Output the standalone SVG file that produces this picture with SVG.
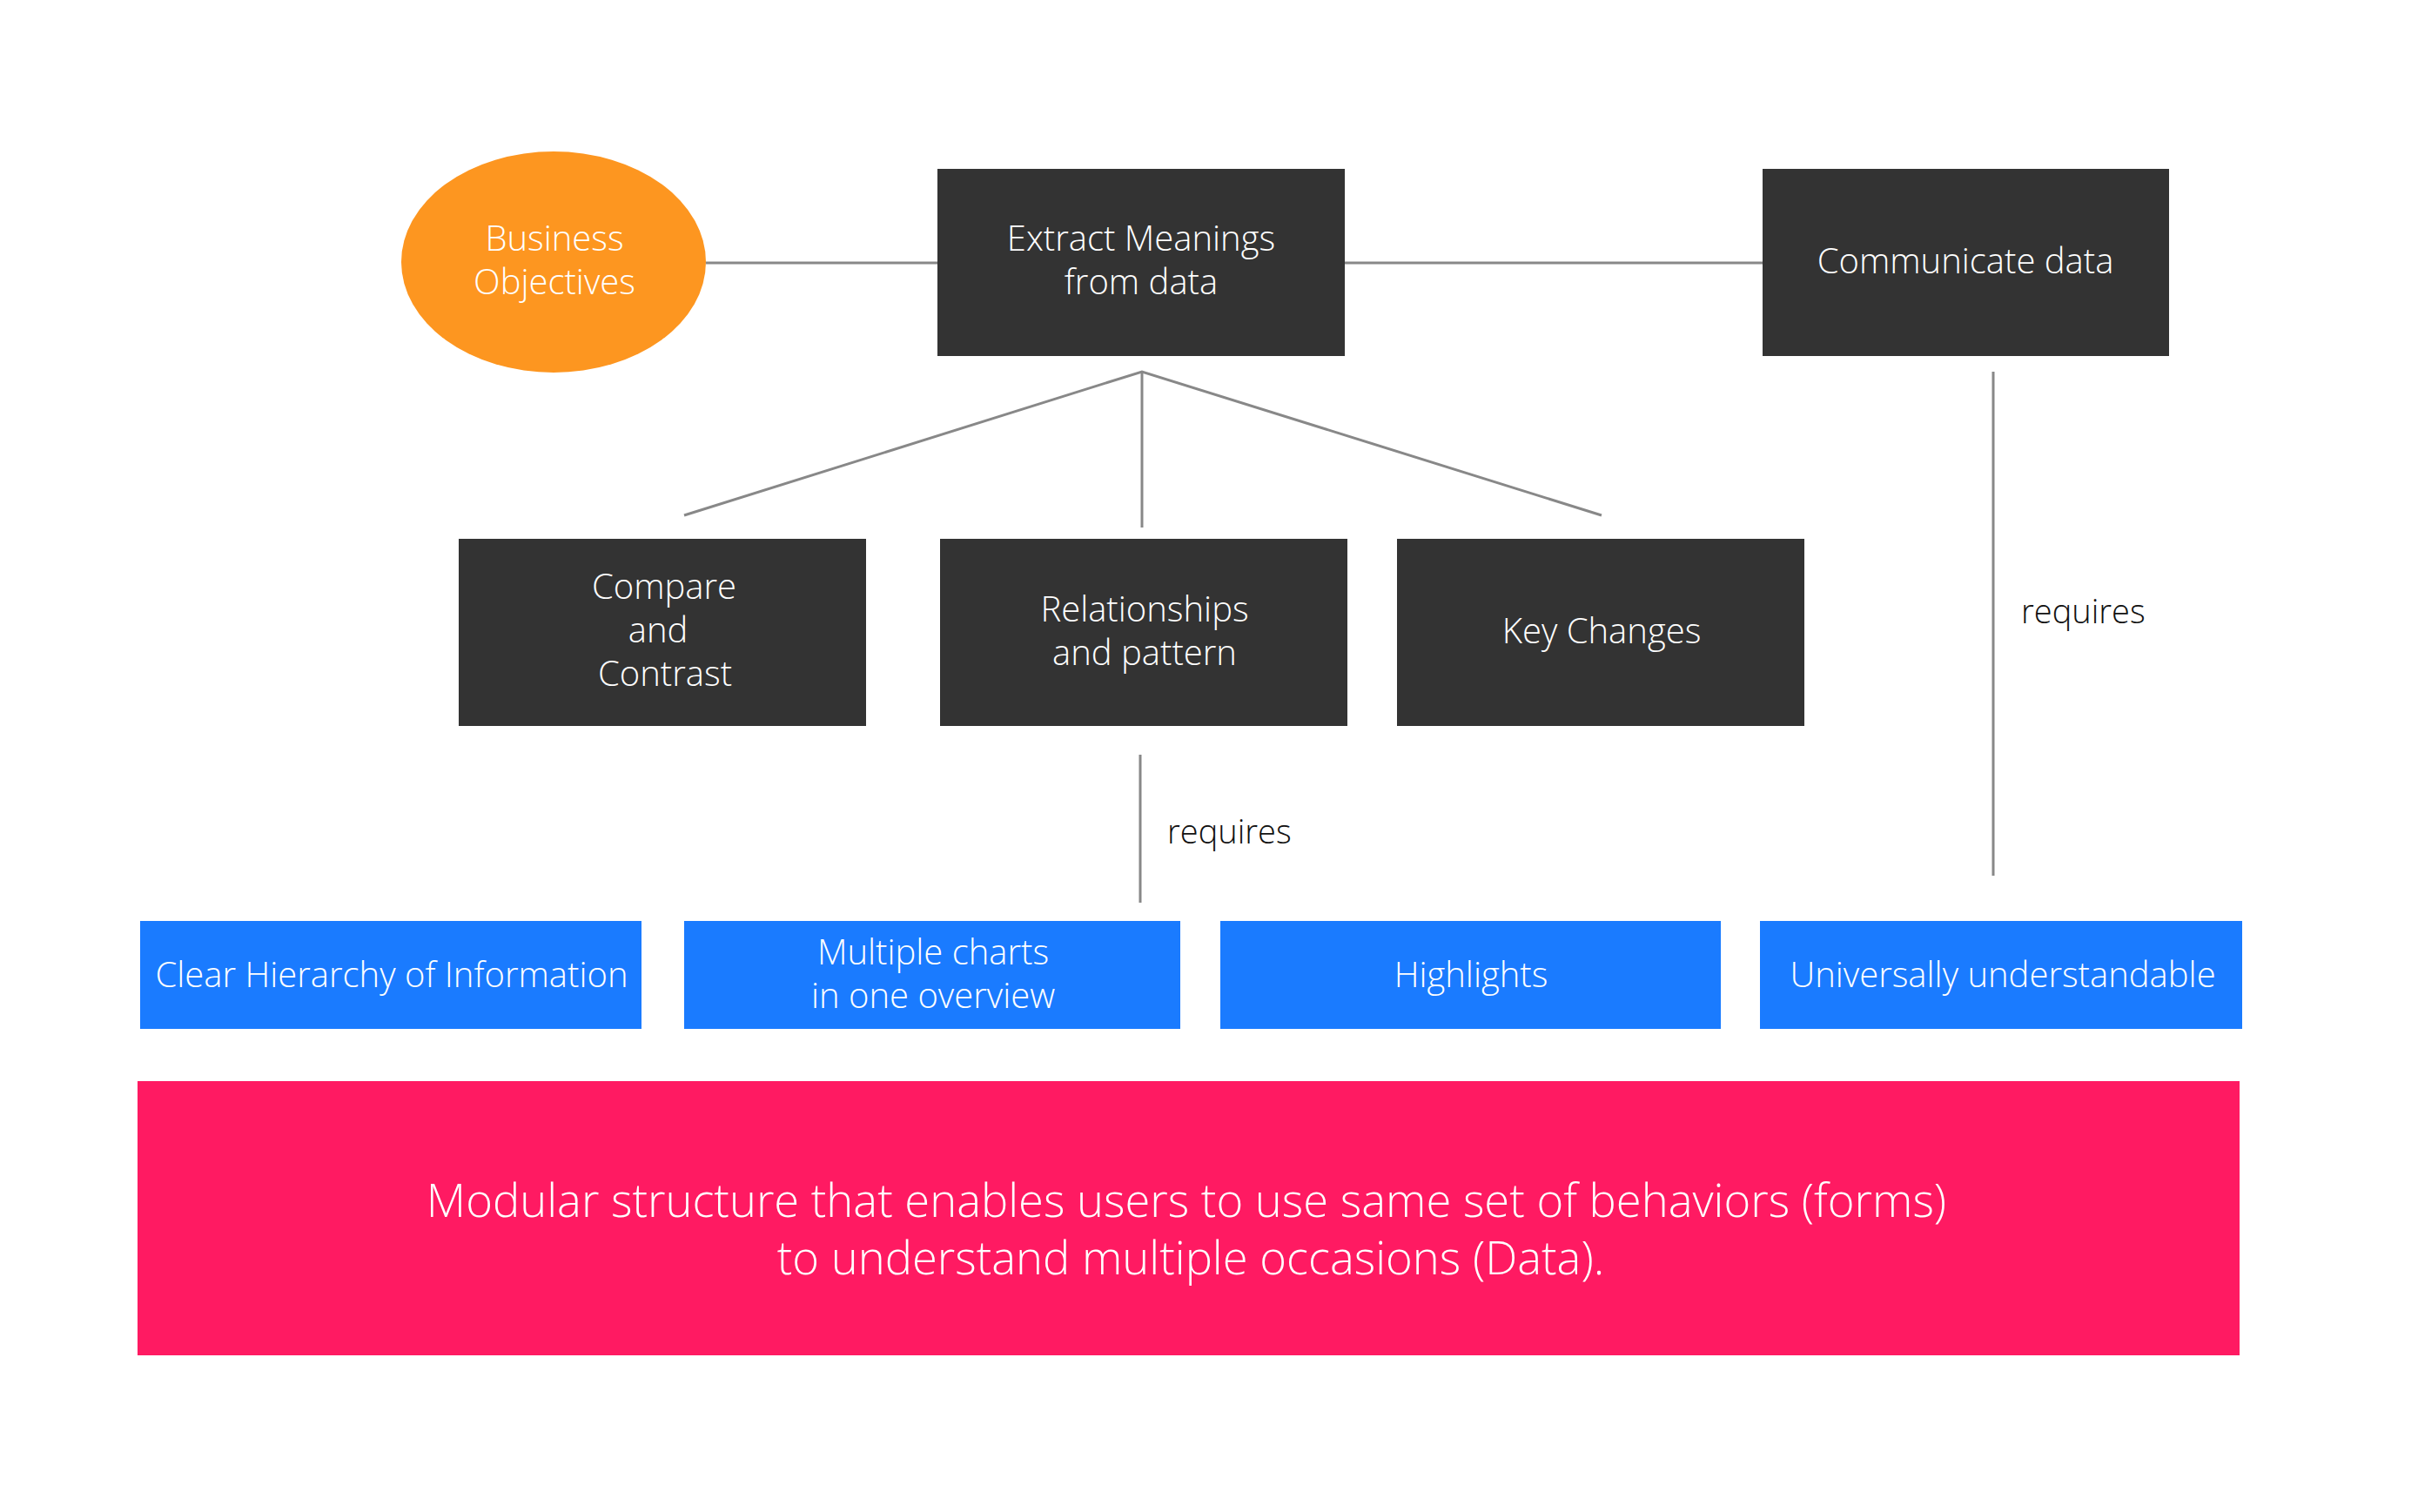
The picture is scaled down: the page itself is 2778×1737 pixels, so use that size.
<svg xmlns="http://www.w3.org/2000/svg" width="2778" height="1737" viewBox="0 0 2778 1737">
<style>
.dark{fill:#333333}
.blue{fill:#1a7bff}
.lbl{font-family:"Open Sans","Liberation Sans",sans-serif;font-weight:300;fill:#ffffff;text-anchor:middle;font-size:40px}
.req{font-family:"Open Sans","Liberation Sans",sans-serif;font-weight:300;fill:#111111;font-size:38px}
.big{font-family:"Open Sans","Liberation Sans",sans-serif;font-weight:300;fill:#ffffff;text-anchor:middle;font-size:52.5px}
.conn{stroke:#888888;stroke-width:3;fill:none}
</style>
<rect width="2778" height="1737" fill="#ffffff"/>
<g id="connectors">
<line class="conn" x1="811" y1="302" x2="1077" y2="302"/>
<line class="conn" x1="1545" y1="302" x2="2025" y2="302"/>
<polyline class="conn" points="786,592 1312,427 1840,592"/>
<line class="conn" x1="1312" y1="427" x2="1312" y2="606"/>
<line class="conn" x1="2290" y1="427" x2="2290" y2="1006"/>
<line class="conn" x1="1310" y1="867" x2="1310" y2="1037"/>
<text class="req" x="2322" y="716">requires</text>
<text class="req" x="1341" y="969">requires</text>
</g>
<g id="business">
<ellipse cx="636" cy="301" rx="175" ry="127" fill="#fd9620"/>
<text class="lbl" x="637" y="288">Business</text>
<text class="lbl" x="637" y="338">Objectives</text>
</g>
<g id="extract">
<rect class="dark" x="1077" y="194" width="468" height="215"/>
<text class="lbl" x="1311" y="288">Extract Meanings</text>
<text class="lbl" x="1311" y="338">from data</text>
</g>
<g id="communicate">
<rect class="dark" x="2025" y="194" width="467" height="215"/>
<text class="lbl" x="2258" y="314">Communicate data</text>
</g>
<g id="compare">
<rect class="dark" x="527" y="619" width="468" height="215"/>
<text class="lbl" x="763" y="688">Compare</text>
<text class="lbl" x="756" y="738">and</text>
<text class="lbl" x="764" y="788">Contrast</text>
</g>
<g id="relationships">
<rect class="dark" x="1080" y="619" width="468" height="215"/>
<text class="lbl" x="1315" y="714">Relationships</text>
<text class="lbl" x="1315" y="764">and pattern</text>
</g>
<g id="keychanges">
<rect class="dark" x="1605" y="619" width="468" height="215"/>
<text class="lbl" x="1840" y="739">Key Changes</text>
</g>
<g id="hierarchy">
<rect class="blue" x="161" y="1058" width="576" height="124"/>
<text class="lbl" x="450" y="1134">Clear Hierarchy of Information</text>
</g>
<g id="multiple">
<rect class="blue" x="786" y="1058" width="570" height="124"/>
<text class="lbl" x="1072" y="1108">Multiple charts</text>
<text class="lbl" x="1072" y="1158">in one overview</text>
</g>
<g id="highlights">
<rect class="blue" x="1402" y="1058" width="575" height="124"/>
<text class="lbl" x="1690" y="1134">Highlights</text>
</g>
<g id="universal">
<rect class="blue" x="2022" y="1058" width="554" height="124"/>
<text class="lbl" x="2301" y="1134">Universally understandable</text>
</g>
<g id="modular">
<rect x="158" y="1242" width="2415" height="315" fill="#ff1a62"/>
<text class="big" x="1363" y="1398">Modular structure that enables users to use same set of behaviors (forms)</text>
<text class="big" x="1368" y="1464">to understand multiple occasions (Data).</text>
</g>
</svg>
